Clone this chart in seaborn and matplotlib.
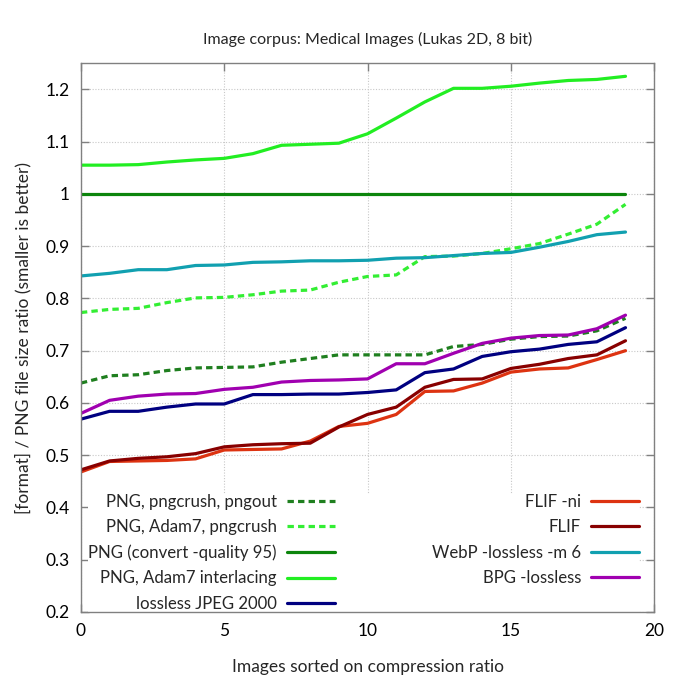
import numpy as np
import pandas as pd
import matplotlib
matplotlib.use("Agg")
import matplotlib.pyplot as plt
import seaborn as sns
from matplotlib.ticker import FuncFormatter, MultipleLocator

images = list(range(20))

png_crush_pngout = [0.638, 0.652, 0.654, 0.662, 0.667, 0.668, 0.669, 0.678, 0.685, 0.692,
                    0.692, 0.692, 0.692, 0.708, 0.712, 0.722, 0.727, 0.728, 0.738, 0.762]
png_adam7_crush = [0.773, 0.779, 0.781, 0.792, 0.801, 0.802, 0.807, 0.814, 0.816, 0.831,
                   0.842, 0.845, 0.880, 0.881, 0.886, 0.895, 0.905, 0.923, 0.942, 0.980]
png_convert = [1.0] * 20
png_adam7 = [1.055, 1.055, 1.056, 1.061, 1.065, 1.068, 1.077, 1.093, 1.095, 1.097,
             1.115, 1.145, 1.176, 1.202, 1.202, 1.206, 1.212, 1.217, 1.219, 1.225]
jpeg2000 = [0.569, 0.584, 0.584, 0.592, 0.598, 0.598, 0.616, 0.616, 0.617, 0.617,
            0.620, 0.625, 0.658, 0.665, 0.689, 0.698, 0.703, 0.712, 0.717, 0.744]
flif_ni = [0.468, 0.488, 0.489, 0.490, 0.493, 0.510, 0.511, 0.512, 0.527, 0.555,
           0.561, 0.578, 0.622, 0.623, 0.638, 0.659, 0.665, 0.667, 0.683, 0.700]
flif = [0.472, 0.489, 0.494, 0.497, 0.503, 0.516, 0.520, 0.522, 0.523, 0.554,
        0.578, 0.592, 0.630, 0.645, 0.646, 0.666, 0.674, 0.685, 0.692, 0.719]
webp = [0.843, 0.848, 0.855, 0.855, 0.863, 0.864, 0.869, 0.870, 0.872, 0.872,
        0.873, 0.877, 0.878, 0.882, 0.886, 0.888, 0.898, 0.909, 0.922, 0.927]
bpg = [0.580, 0.605, 0.613, 0.617, 0.618, 0.626, 0.630, 0.640, 0.643, 0.644,
       0.646, 0.675, 0.675, 0.695, 0.714, 0.724, 0.729, 0.730, 0.742, 0.768]

labels = ["PNG, pngcrush, pngout", "PNG, Adam7, pngcrush", "PNG (convert -quality 95)",
          "PNG, Adam7 interlacing", "lossless JPEG 2000", "FLIF -ni", "FLIF",
          "WebP -lossless -m 6", "BPG -lossless"]
series = [png_crush_pngout, png_adam7_crush, png_convert, png_adam7, jpeg2000,
          flif_ni, flif, webp, bpg]
colors = ["#1f7f1f", "#33ee33", "#0c850c", "#22ee22", "#000080",
          "#dd3311", "#880000", "#11a0b0", "#a000b0"]
dashed = [True, True, False, False, False, False, False, False, False]

sns.set_style("ticks")
plt.rcParams['font.family'] = ['Lato', 'DejaVu Sans']
plt.rcParams['font.size'] = 12.5

fig = plt.figure(figsize=(6.8, 6.8), dpi=100)
ax = fig.add_axes([0.119, 0.100, 0.843, 0.807])

handles = []
for lab, vals, col, dsh in zip(labels, series, colors, dashed):
    df = pd.DataFrame({"x": images, "y": vals})
    sns.lineplot(data=df, x="x", y="y", ax=ax, color=col, linewidth=2.3, legend=False)
    ln = ax.lines[-1]
    if dsh:
        ln.set_linestyle((0, (2.0, 1.3)))
    ln.set_label(lab)
    handles.append(ln)

ax.set_xlim(0, 20)
ax.set_ylim(0.2, 1.25)
ax.xaxis.set_major_locator(MultipleLocator(5))
ax.yaxis.set_major_locator(MultipleLocator(0.1))
ax.yaxis.set_major_formatter(FuncFormatter(lambda v, p: f"{round(v, 2):g}"))
ax.grid(True, color="#c8c8c8", linestyle=(0, (1, 1.5)), linewidth=0.8)
ax.set_axisbelow(True)
for s in ax.spines.values():
    s.set_color("#808080")
    s.set_linewidth(1.0)
ax.tick_params(direction="in", length=6, width=1, color="#808080",
               top=True, right=True, labelsize=12.5, labelcolor="black", pad=8)

ax.set_xlabel("Images sorted on compression ratio", fontsize=12.5, labelpad=14)
ax.set_ylabel("[format] / PNG file size ratio (smaller is better)", fontsize=12.5, labelpad=10)
ax.set_title("Image corpus: Medical Images (Lukas 2D, 8 bit)", fontsize=11.5, pad=14)

leg = ax.legend(handles=handles, ncol=2, markerfirst=False, loc="lower left",
                bbox_to_anchor=(0.012, 0, 0.962, 0.2), mode="expand", borderaxespad=0,
                frameon=True, fancybox=False, framealpha=1, facecolor="white",
                edgecolor="none", fontsize=12.1, handlelength=2.85, handletextpad=0.6,
                labelspacing=0.55, borderpad=0.02)
leg.set_zorder(1.5)

fig.savefig("out.png", dpi=100)
